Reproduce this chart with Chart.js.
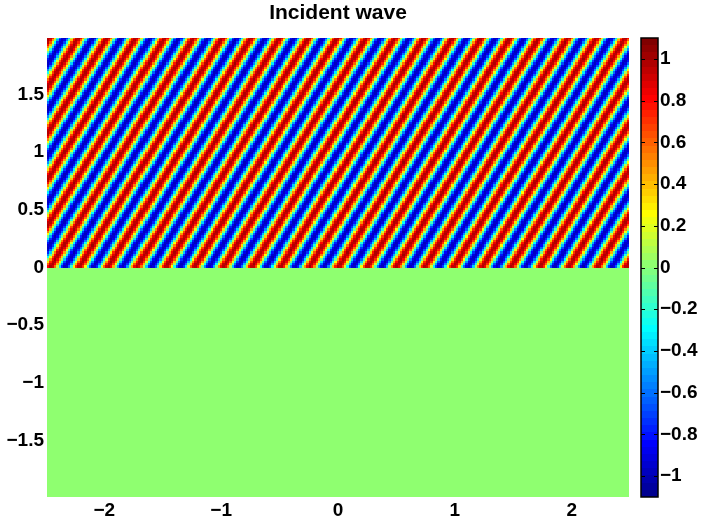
<!DOCTYPE html>
<html><head><meta charset="utf-8">
<script src="https://cdn.jsdelivr.net/npm/chart.js@4/dist/chart.umd.min.js"></script>
<style>html,body{margin:0;padding:0;background:#fff}canvas{display:block}</style>
</head><body>
<canvas id="c" width="701" height="520"></canvas>
<script>
const titleText = 'Incident wave';
const xTicks = [-2, -1, 0, 1, 2];
const yTicks = [-1.5, -1, -0.5, 0, 0.5, 1, 1.5];
const cbTicks = [-1, -0.8, -0.6, -0.4, -0.2, 0, 0.2, 0.4, 0.6, 0.8, 1];
const xLimits = [-2.49, 2.49];
const yLimits = [-1.99, 1.99];
const colorLimits = [-1.1, 1.1];
// one period of the stripe profile read across a stripe (crest -> trough -> crest)
const stripeProfile = [1.0, 0.92, 0.71, 0.38, 0.0, -0.38, -0.71, -0.92, -1.0, -0.92, -0.71, -0.38, 0.0, 0.38, 0.71, 0.92];
const stripePeriodX = 0.2463;  // horizontal distance between neighbouring crests
const stripePeriodY = 0.40;    // vertical distance between neighbouring crests
const crestAtX = 0.0;          // a crest crosses y = 0 here
const waveRegionY = [0, 1.99]; // the wave fills y >= 0
const belowValue = 0;          // field value below the interface
const cellSize = 0.02;         // grid spacing of the field

const FONT = '"Liberation Sans", Arial, Helvetica, sans-serif';
const fmt = v => (v < 0 ? '\u2212' : '') + String(Math.abs(v));

function jet(n) {
  const out = [];
  for (let i = 1; i <= n; i++) {
    const q = n / 4;
    const r = Math.min(1, Math.max(0, Math.min((i - 1.5 * q) / q, (3.5 * q - i) / q + 1)));
    const g = Math.min(1, Math.max(0, Math.min((i - 0.5 * q) / q, (3.5 * q - i) / q)));
    const b = Math.min(1, Math.max(0, Math.min((i + 0.5 * q) / q, (2.5 * q - i) / q)));
    out.push(`rgb(${Math.round(r * 255)},${Math.round(g * 255)},${Math.round(b * 255)})`);
  }
  return out;
}
const cmap = jet(64);
function colorFor(v) {
  let k = Math.floor((v - colorLimits[0]) / (colorLimits[1] - colorLimits[0]) * cmap.length);
  k = Math.max(0, Math.min(cmap.length - 1, k));
  return cmap[k];
}
function fieldAt(x, y) {
  if (y < waveRegionY[0]) return belowValue;
  let t = (x - crestAtX) / stripePeriodX - y / stripePeriodY;
  t = t - Math.floor(t);
  const n = stripeProfile.length;
  const p = t * n;
  const i0 = Math.floor(p) % n, i1 = (i0 + 1) % n, f = p - Math.floor(p);
  return stripeProfile[i0] * (1 - f) + stripeProfile[i1] * f;
}

const fieldPlugin = {
  id: 'field',
  beforeDatasetsDraw(chart) {
    const ctx = chart.ctx, xs = chart.scales.x, ys = chart.scales.y, a = chart.chartArea;
    ctx.save();
    ctx.beginPath(); ctx.rect(a.left, a.top, a.right - a.left, a.bottom - a.top); ctx.clip();
    const nx = Math.ceil((xLimits[1] - xLimits[0]) / cellSize);
    const jLo = Math.floor(yLimits[0] / cellSize), jHi = Math.ceil(yLimits[1] / cellSize);
    for (let i = 0; i < nx; i++) {
      const xa = xLimits[0] + i * cellSize, xb = xa + cellSize;
      const px0 = Math.round(xs.getPixelForValue(xa)), px1 = Math.round(xs.getPixelForValue(xb));
      for (let j = jLo; j < jHi; j++) {
        const ya = j * cellSize, yb = ya + cellSize;
        const py0 = Math.round(ys.getPixelForValue(ya)), py1 = Math.round(ys.getPixelForValue(yb));
        ctx.fillStyle = colorFor(fieldAt((xa + xb) / 2, (ya + yb) / 2));
        ctx.fillRect(px0, py1, px1 - px0, py0 - py1);
      }
    }
    ctx.restore();
  },
  afterDraw(chart) {
    const ctx = chart.ctx, a = chart.chartArea, cb = chart.scales.cb;
    ctx.save();
    ctx.fillStyle = '#000';
    ctx.font = 'bold 21px ' + FONT;
    ctx.textAlign = 'center'; ctx.textBaseline = 'middle';
    ctx.fillText(titleText, (a.left + a.right) / 2, 13);
    const bx0 = a.right + 12, bx1 = a.right + 29;
    const n = cmap.length;
    for (let k = 0; k < n; k++) {
      const v0 = colorLimits[0] + (colorLimits[1] - colorLimits[0]) * k / n;
      const v1 = colorLimits[0] + (colorLimits[1] - colorLimits[0]) * (k + 1) / n;
      const p0 = Math.round(cb.getPixelForValue(v0)), p1 = Math.round(cb.getPixelForValue(v1));
      ctx.fillStyle = cmap[k];
      ctx.fillRect(bx0, p1, bx1 - bx0, p0 - p1);
    }
    ctx.strokeStyle = '#000'; ctx.lineWidth = 1.5;
    ctx.strokeRect(bx0, cb.getPixelForValue(colorLimits[1]), bx1 - bx0, cb.getPixelForValue(colorLimits[0]) - cb.getPixelForValue(colorLimits[1]));
    ctx.lineWidth = 1;
    for (const t of cbTicks) {
      const py = Math.round(cb.getPixelForValue(t)) + 0.5;
      ctx.beginPath();
      ctx.moveTo(bx0, py); ctx.lineTo(bx0 + 4, py);
      ctx.moveTo(bx1 - 4, py); ctx.lineTo(bx1, py);
      ctx.stroke();
    }
    ctx.restore();
  }
};

function noPad(s) { s.paddingTop = 0; s.paddingBottom = 0; s.paddingLeft = 0; s.paddingRight = 0; }

new Chart(document.getElementById('c'), {
  type: 'scatter',
  data: { datasets: [{ data: [], showLine: false }] },
  options: {
    responsive: false,
    animation: false,
    layout: { padding: { top: 38, left: 0, right: 0, bottom: 0 } },
    plugins: { legend: { display: false }, tooltip: { enabled: false }, title: { display: false } },
    scales: {
      x: {
        type: 'linear', position: 'bottom', min: xLimits[0], max: xLimits[1],
        afterBuildTicks: s => { s.ticks = xTicks.map(v => ({ value: v })); },
        afterFit: s => { s.height = 23; noPad(s); },
        grid: { display: false, drawTicks: false }, border: { display: false },
        ticks: { padding: 2, color: '#000', font: { family: FONT, size: 19, weight: 'bold' }, callback: v => fmt(v), maxRotation: 0, autoSkip: false }
      },
      y: {
        type: 'linear', position: 'left', min: yLimits[0], max: yLimits[1],
        afterBuildTicks: s => { s.ticks = yTicks.map(v => ({ value: v })); },
        afterFit: s => { s.width = 47; noPad(s); },
        grid: { display: false, drawTicks: false }, border: { display: false },
        ticks: { padding: 3, color: '#000', font: { family: FONT, size: 19, weight: 'bold' }, callback: v => fmt(v), autoSkip: false }
      },
      cb: {
        type: 'linear', position: 'right', min: colorLimits[0], max: colorLimits[1],
        afterBuildTicks: s => { s.ticks = cbTicks.map(v => ({ value: v })); },
        afterFit: s => { s.width = 72; noPad(s); },
        grid: { display: false, drawTicks: false }, border: { display: false },
        ticks: { padding: 31, color: '#000', font: { family: FONT, size: 19, weight: 'bold' }, callback: v => fmt(Math.round(v * 10) / 10), autoSkip: false }
      }
    }
  },
  plugins: [fieldPlugin]
});
</script>
</body></html>
